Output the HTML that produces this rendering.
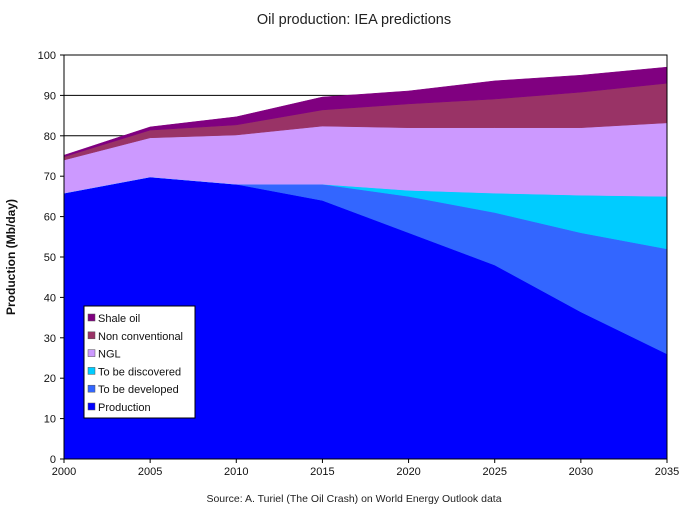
<!DOCTYPE html>
<html><head><meta charset="utf-8"><style>
body{margin:0;background:#fff;font-family:"Liberation Sans",sans-serif}
</style></head><body>
<svg id="c" width="699" height="511" xmlns="http://www.w3.org/2000/svg" font-family="Liberation Sans, sans-serif">
<text x="354" y="24" font-size="14.5" text-anchor="middle" fill="#222">Oil production: IEA predictions</text>
<text x="354" y="502" font-size="10.5" text-anchor="middle" fill="#222">Source: A. Turiel (The Oil Crash) on World Energy Outlook data</text>
<text transform="translate(15,257) rotate(-90)" font-size="12" font-weight="bold" text-anchor="middle" fill="#111">Production (Mb/day)</text>
<g id="grid"></g><g id="areas"></g><g id="axes"></g><g id="legend"></g>
</svg>
<script>
const years=[2000,2005,2010,2015,2020,2025,2030,2035];
const production=[65.8,69.8,68,64,56,48,36.4,26];
const toBeDeveloped=[0,0,0,4,9,13,19.6,26];
const toBeDiscovered=[0,0,0,0,1.5,4.8,9.3,13];
const ngl=[8.2,9.7,12.2,14.4,15.5,16.2,16.7,18.2];
const nonConventional=[0.8,1.9,2.5,4,5.9,7.1,8.8,9.8];
const shaleOil=[0.4,0.8,2,3.2,3.2,4.5,4.2,4];
const yTicks=[0,10,20,30,40,50,60,70,80,90,100];
const seriesNames=["Production","To be developed","To be discovered","NGL","Non conventional","Shale oil"];
const colors=["#0000ff","#3366ff","#00ccff","#cc99ff","#993366","#800080"];
const NS="http://www.w3.org/2000/svg";
const X0=64,X1=667,Y0=459,Y1=55;
const xs=y=>X0+(y-2000)/35*(X1-X0);
const ys=v=>Y0-v/100*(Y0-Y1);
function mk(t,a,p){const e=document.createElementNS(NS,t);for(const k in a)e.setAttribute(k,a[k]);p.appendChild(e);return e;}
const grid=document.getElementById('grid'),areas=document.getElementById('areas'),axes=document.getElementById('axes'),leg=document.getElementById('legend');
yTicks.forEach(t=>{
 const l=mk('line',{x1:X0,x2:X1,y1:ys(t),y2:ys(t),stroke:'#000','stroke-width':1},grid);
 
 
 const tx=mk('text',{x:X0-8,y:ys(t)+4,'font-size':11,'text-anchor':'end',fill:'#111'},axes);tx.textContent=t;
 
 
 mk('line',{x1:X0-4,x2:X0,y1:ys(t),y2:ys(t),stroke:'#000'},axes);
});
years.forEach(y=>{
 const tx=mk('text',{x:xs(y),y:Y0+16,'font-size':11,'text-anchor':'middle',fill:'#111'},axes);tx.textContent=y;
 
 
 mk('line',{x1:xs(y),x2:xs(y),y1:Y0,y2:Y0+4,stroke:'#000'},axes);
});
mk('rect',{x:X0,y:Y1,width:X1-X0,height:Y0-Y1,fill:'none',stroke:'#000'},axes);
const series=[production,toBeDeveloped,toBeDiscovered,ngl,nonConventional,shaleOil];
let base=years.map(()=>0);
series.forEach((s,i)=>{
 const top=base.map((b,j)=>b+s[j]);
 let d='M'+years.map((y,j)=>xs(y)+','+ys(top[j])).join('L');
 for(let j=years.length-1;j>=0;j--)d+='L'+xs(years[j])+','+ys(base[j]);
 const p=mk('path',{d:d+'Z',fill:colors[i],stroke:colors[i],'stroke-width':0.5},areas);
 
 
 base=top;
});
const lb=mk('rect',{x:84,y:306,width:111,height:112,fill:'#fff',stroke:'#000'},leg);


for(let k=0;k<6;k++){
 const i=5-k,yy=318+k*17.8;
 mk('rect',{x:88,y:yy-4,width:7,height:7,fill:colors[i],stroke:'#555','stroke-width':0.5},leg);
 const t=mk('text',{x:98,y:yy+4,'font-size':11,fill:'#111'},leg);t.textContent=seriesNames[i];
 
 
}
</script>
</body></html>
